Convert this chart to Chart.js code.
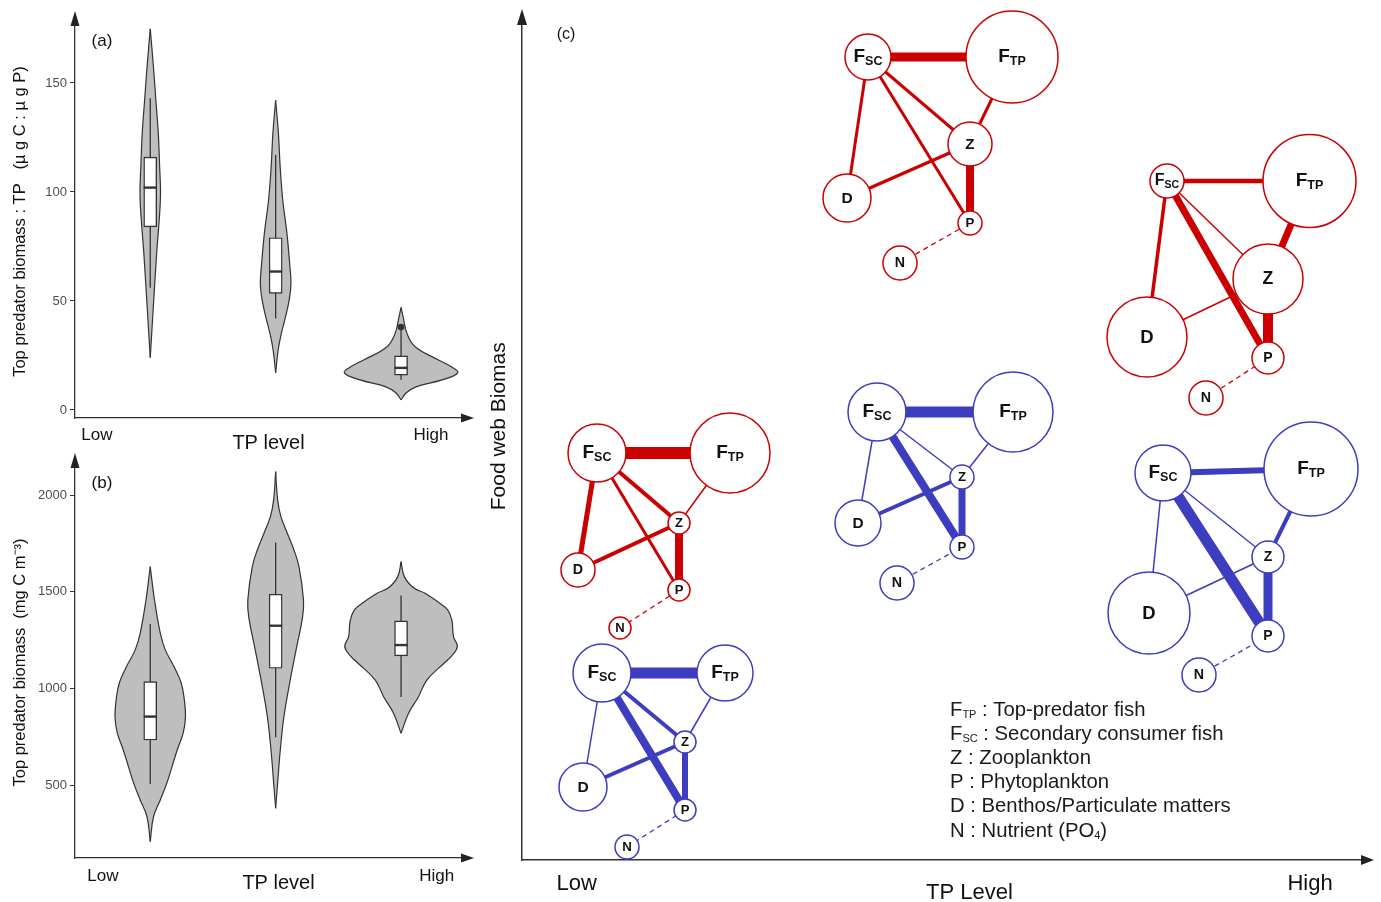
<!DOCTYPE html>
<html>
<head>
<meta charset="utf-8">
<title>Top predator biomass and food web structure along TP</title>
<script src="https://cdn.jsdelivr.net/npm/chart.js@4.4.1/dist/chart.umd.min.js"></script>
<style>
  html,body{margin:0;padding:0;background:#fff;overflow:hidden}
  #wrap{position:relative;width:1381px;height:902px}
  #wrap canvas{position:absolute;left:0;top:0}
</style>
</head>
<body>
<div id="wrap">
  <canvas id="chartA" width="1381" height="902"></canvas>
  <canvas id="chartB" width="1381" height="902"></canvas>
  <canvas id="chartC" width="1381" height="902"></canvas>
</div>
<script>
const FONT = "'Liberation Sans', Arial, Helvetica, sans-serif";

// ---------- shared ----------
const tpCats = [1, 2, 3];              // Low, intermediate, High TP
const tpEndLabels = ['Low', 'High'];

// ---------- (a) top predator biomass : TP ----------
const aTicks = [0, 50, 100, 150];
const aLowVals  = [174.8, 157, 142, 127, 111.5, 99.5, 88.5, 73.4, 58, 43, 24];
const aLowDens  = [0, .026, .045, .064, .075, .082, .073, .053, .036, .020, 0];
const aMidVals  = [142, 127, 111.5, 96, 81, 65.6, 58, 50.5, 43, 35, 27.5, 17];
const aMidDens  = [0, .022, .036, .057, .090, .114, .122, .108, .080, .045, .020, 0];
const aHighVals = [47, 42.8, 35, 29, 23, 19.9, 17, 13.8, 10.6, 7.8, 4.6];
const aHighDens = [0, .016, .048, .112, .295, .398, .452, .327, .120, .040, 0];
const aQ1 = [84, 53.5, 16];
const aMed = [102, 63.5, 19.3];
const aQ3 = [116, 79, 24.8];
const aWhiskLo = [56, 42, 13.8];
const aWhiskHi = [143, 117, 37];
const aOutX = [3];
const aOutY = [38];

// ---------- (b) top predator biomass ----------
const bTicks = [500, 1000, 1500, 2000];
const bLowVals  = [1630, 1457, 1286, 1199, 1111, 1028, 940, 853, 770, 681, 594, 511, 423, 336, 207];
const bLowDens  = [0, .034, .080, .120, .191, .247, .272, .281, .263, .215, .173, .133, .080, .026, 0];
const bMidVals  = [2121, 1975, 1888, 1802, 1716, 1630, 1457, 1371, 1199, 1028, 853, 681, 511, 380];
const bMidDens  = [0, .016, .042, .093, .146, .186, .222, .215, .163, .112, .066, .037, .016, 0];
const bHighVals = [1655, 1578, 1520, 1492, 1440, 1406, 1350, 1268, 1216, 1170, 1130, 1044, 957, 871, 768];
const bHighDens = [0, .026, .100, .191, .310, .372, .406, .418, .449, .406, .343, .207, .139, .060, 0];
const bQ1 = [733, 1104, 1168];
const bMed = [854, 1324, 1224];
const bQ3 = [1035, 1487, 1349];
const bWhiskLo = [505, 747, 955];
const bWhiskHi = [1333, 1754, 1480];

// ---------- (c) food webs ----------
const nodeNames = ['Fsc', 'Ftp', 'Z', 'D', 'P', 'N'];
const links = [['Fsc','Ftp'], ['Fsc','D'], ['Fsc','Z'], ['Fsc','P'], ['D','Z'], ['Ftp','Z'], ['Z','P'], ['N','P']];

const lowRedX = [7.5, 20.8, 15.7, 5.6, 15.7, 9.8];
const lowRedY = [40.7, 40.7, 33.7, 29.0, 27.0, 23.2];
const lowRedSize = [29, 40, 11, 17, 11, 11];
const lowRedFlux = [12, 5, 4, 3, 4, 1.5, 8, 1.3];

const lowBlueX = [8.0, 20.3, 16.3, 6.1, 16.3, 10.5];
const lowBlueY = [18.7, 18.7, 11.8, 7.3, 5.0, 1.3];
const lowBlueSize = [29, 28, 11, 24, 11, 12];
const lowBlueFlux = [11, 1.5, 4, 8, 4, 1.5, 6, 1.3];

const midRedX = [34.6, 49.0, 44.8, 32.5, 44.8, 37.8];
const midRedY = [80.3, 80.3, 71.6, 66.2, 63.7, 59.7];
const midRedSize = [23, 46, 22, 24, 12, 17];
const midRedFlux = [9, 3, 3, 3, 3.5, 3, 8, 1.3];

const midBlueX = [35.5, 49.1, 44.0, 33.6, 44.0, 37.5];
const midBlueY = [44.8, 44.8, 38.3, 33.7, 31.3, 27.7];
const midBlueSize = [29, 40, 12, 23, 12, 17];
const midBlueFlux = [11, 1.5, 1.5, 8, 4, 1.5, 7, 1.3];

const highRedX = [64.5, 78.75, 74.6, 62.5, 74.6, 68.4];
const highRedY = [67.9, 67.9, 58.1, 52.3, 50.2, 46.2];
const highRedSize = [17, 46.5, 35, 40, 16, 17];
const highRedFlux = [4.5, 3.5, 1.5, 7, 1.5, 7, 10, 1.3];

const highBlueX = [64.1, 78.9, 74.6, 62.7, 74.6, 67.7];
const highBlueY = [38.7, 39.1, 30.3, 24.7, 22.4, 18.5];
const highBlueSize = [28, 47, 16, 41, 16, 17];
const highBlueFlux = [6, 1.5, 1.5, 11, 1.5, 4, 9, 1.3];

const legendLines = [
  [{t:'F'}, {t:'TP', sub:true}, {t:' : Top-predator fish'}],
  [{t:'F'}, {t:'SC', sub:true}, {t:' : Secondary consumer fish'}],
  [{t:'Z : Zooplankton'}],
  [{t:'P : Phytoplankton'}],
  [{t:'D : Benthos/Particulate matters'}],
  [{t:'N : Nutrient (PO'}, {t:'4', sub:true}, {t:')'}]
];

const RED = '#cc0000', BLUE = '#3d3dbf', INK = '#333';

// ---------- plugins ----------
const arrowPlugin = {
  id: 'axisArrows',
  afterDraw(chart, args, o){
    const {ctx, chartArea: ca} = chart;
    ctx.save(); ctx.fillStyle = '#222';
    ctx.beginPath(); ctx.moveTo(ca.left, ca.top - o.lenY); ctx.lineTo(ca.left - o.half, ca.top + 1); ctx.lineTo(ca.left + o.half, ca.top + 1); ctx.closePath(); ctx.fill();
    ctx.beginPath(); ctx.moveTo(ca.right + o.lenX, ca.bottom); ctx.lineTo(ca.right - 1, ca.bottom - o.half); ctx.lineTo(ca.right - 1, ca.bottom + o.half); ctx.closePath(); ctx.fill();
    ctx.restore();
  }
};
const tagPlugin = {
  id: 'panelTag',
  afterDraw(chart, args, o){
    const {ctx, chartArea: ca} = chart;
    ctx.save(); ctx.font = o.size + 'px ' + FONT; ctx.fillStyle = '#111';
    ctx.textAlign = 'center'; ctx.textBaseline = 'middle';
    ctx.fillText(o.text, ca.left + o.dx, ca.top + o.dy); ctx.restore();
  }
};

// text with subscripts, left aligned or centred
function richText(ctx, parts, x, y, size, weight, subSize, subDrop, center){
  const w = parts.map(p => { ctx.font = weight + ' ' + (p.sub ? subSize : size) + 'px ' + FONT; return ctx.measureText(p.t).width; });
  let cx = center ? x - w.reduce((s, v) => s + v, 0) / 2 : x;
  parts.forEach((p, i) => {
    ctx.font = weight + ' ' + (p.sub ? subSize : size) + 'px ' + FONT;
    ctx.fillText(p.t, cx, p.sub ? y + subDrop : y);
    cx += w[i];
  });
}

const nodePlugin = {
  id: 'nodeLabels',
  afterDatasetsDraw(chart){
    const ctx = chart.ctx;
    ctx.save(); ctx.fillStyle = '#111'; ctx.textBaseline = 'middle'; ctx.textAlign = 'left';
    chart.data.datasets.forEach((ds, di) => {
      if (ds.type !== 'bubble') return;
      chart.getDatasetMeta(di).data.forEach((pt, i) => {
        const r = ds.data[i].r, name = nodeNames[i];
        if (name[0] === 'F') {
          const fs = r < 20 ? 16 : 19;
          richText(ctx, [{t:'F'}, {t:name.slice(1).toUpperCase(), sub:true}], pt.x, pt.y, fs, 'bold', fs * 0.66, fs * 0.24, true);
        } else {
          const fs = Math.min(18.5, 11 + r * 0.19);
          richText(ctx, [{t:name}], pt.x, pt.y + 0.5, fs, 'bold', fs, 0, true);
        }
      });
    });
    ctx.restore();
  }
};

const legendPlugin = {
  id: 'webLegend',
  afterDraw(chart){
    const {ctx, chartArea: ca} = chart;
    ctx.save(); ctx.fillStyle = '#1a1a1a'; ctx.textBaseline = 'middle'; ctx.textAlign = 'left';
    legendLines.forEach((parts, i) => {
      richText(ctx, parts, ca.left + 428, ca.bottom - 150 + i * 24.2, 20.3, 'normal', 11, 5, false);
    });
    ctx.restore();
  }
};

// ---------- violin panels ----------
function violinSets(center, vals, dens){
  const common = {type:'line', indexAxis:'y', borderColor:INK, borderWidth:1.2, pointRadius:0, tension:0.4, clip:false, order:5};
  return [
    Object.assign({}, common, {data: vals.map((v, i) => ({x: center - dens[i], y: v})), fill:false}),
    Object.assign({}, common, {data: vals.map((v, i) => ({x: center + dens[i], y: v})), fill:'-1', backgroundColor:'#bebebe'})
  ];
}
function boxSets(q1, med, q3, lo, hi){
  const half = 0.052, sets = [];
  tpCats.forEach((c, i) => {
    sets.push({type:'line', data:[{x:c, y:lo[i]}, {x:c, y:hi[i]}], borderColor:INK, borderWidth:1.3, pointRadius:0, order:4, clip:false});
    sets.push({type:'line', data:[{x:c - half, y:med[i]}, {x:c + half, y:med[i]}], borderColor:INK, borderWidth:2.4, pointRadius:0, order:2, clip:false});
  });
  sets.push({type:'bar', data: tpCats.map((c, i) => ({x:c, y:[q1[i], q3[i]]})), backgroundColor:'#fff', borderColor:INK,
             borderWidth:1.4, borderSkipped:false, barThickness:13, order:3});
  return sets;
}

function violinOptions(p){
  return {
    responsive:false, animation:false, events:[],
    layout:{autoPadding:false, padding:{left:0, top:p.top, right:1381 - 462, bottom:902 - p.bottom - 40}},
    plugins:{legend:{display:false}, tooltip:{enabled:false},
      panelTag:{text:p.tag, dx:27, dy:16, size:17}, axisArrows:{lenX:12, lenY:14, half:4.5}},
    scales:{
      x:{type:'linear', min:0.4, max:3.486, offset:false,
        grid:{display:false, drawTicks:false}, border:{display:true, color:INK, width:1.3},
        afterBuildTicks: s => { s.ticks = p.ends.map(v => ({value:v})); },
        ticks:{callback:(v, i) => tpEndLabels[i], autoSkip:false, maxRotation:0, padding:p.tickPad,
               font:{family:FONT, size:17}, color:'#111'},
        title:{display:true, text:p.xTitle, font:{family:FONT, size:20}, color:'#111', padding:{top:0, bottom:p.titlePad}},
        afterFit: s => { s.height = 40; }},
      y:{type:'linear', min:p.min, max:p.max,
        afterBuildTicks: s => { s.ticks = p.ticks.map(v => ({value:v})); },
        grid:{display:true, drawOnChartArea:false, drawTicks:true, tickLength:5, color:INK, tickColor:INK, tickWidth:1},
        border:{display:true, color:INK, width:1.3},
        ticks:{callback: v => String(v), font:{family:FONT, size:13}, color:'#4d4d4d', padding:3},
        title:{display:true, text:p.yTitle, font:{family:FONT, size:16.5}, color:'#111', padding:{top:11, bottom:0}},
        afterFit: s => { s.width = 75; }}
    }
  };
}

const aSets = [].concat(
  violinSets(1, aLowVals, aLowDens), violinSets(2, aMidVals, aMidDens), violinSets(3, aHighVals, aHighDens),
  boxSets(aQ1, aMed, aQ3, aWhiskLo, aWhiskHi),
  [{type:'line', data: aOutX.map((x, i) => ({x, y:aOutY[i]})), showLine:false, pointRadius:3,
    pointBackgroundColor:INK, pointBorderColor:INK, order:1, clip:false}]
);
new Chart(document.getElementById('chartA'), {
  type:'line', data:{datasets:aSets},
  options: violinOptions({top:25, bottom:418, min:-3.7, max:176.6, ticks:aTicks, ends:[0.575, 3.239], tag:'(a)',
    tickPad:7, titlePad:3, xTitle:'TP level', yTitle:'Top predator biomass : TP   (\u00b5 g C : \u00b5 g P)'}),
  plugins:[arrowPlugin, tagPlugin]
});

const bSets = [].concat(
  violinSets(1, bLowVals, bLowDens), violinSets(2, bMidVals, bMidDens), violinSets(3, bHighVals, bHighDens),
  boxSets(bQ1, bMed, bQ3, bWhiskLo, bWhiskHi)
);
new Chart(document.getElementById('chartB'), {
  type:'line', data:{datasets:bSets},
  options: violinOptions({top:467, bottom:858, min:122.6, max:2145, ticks:bTicks, ends:[0.623, 3.284], tag:'(b)',
    tickPad:8, titlePad:3, xTitle:'\u2003TP level', yTitle:'Top predator biomass  (mg C m\u207b\u00b3)'}),
  plugins:[arrowPlugin, tagPlugin]
});

// ---------- food web panel ----------
const webs = [
  {x:midRedX, y:midRedY, r:midRedSize, w:midRedFlux, color:RED},
  {x:highRedX, y:highRedY, r:highRedSize, w:highRedFlux, color:RED},
  {x:lowRedX, y:lowRedY, r:lowRedSize, w:lowRedFlux, color:RED},
  {x:midBlueX, y:midBlueY, r:midBlueSize, w:midBlueFlux, color:BLUE},
  {x:highBlueX, y:highBlueY, r:highBlueSize, w:highBlueFlux, color:BLUE},
  {x:lowBlueX, y:lowBlueY, r:lowBlueSize, w:lowBlueFlux, color:BLUE}
];
const cSets = [];
webs.forEach(web => {
  links.forEach((lk, k) => {
    const a = nodeNames.indexOf(lk[0]), b = nodeNames.indexOf(lk[1]);
    cSets.push({type:'line', data:[{x:web.x[a], y:web.y[a]}, {x:web.x[b], y:web.y[b]}],
      borderColor:web.color, borderWidth:web.w[k], borderDash: lk[0] === 'N' ? [5, 4] : [],
      borderCapStyle:'butt', pointRadius:0, order:2, clip:false});
  });
  cSets.push({type:'bubble', data: web.x.map((x, i) => ({x, y:web.y[i], r:web.r[i]})),
    backgroundColor:'#fff', borderColor:web.color, borderWidth:1.5, order:1, clip:false});
});

new Chart(document.getElementById('chartC'), {
  type:'scatter', data:{datasets:cSets},
  options:{
    responsive:false, animation:false, events:[],
    layout:{autoPadding:false, padding:{left:480, top:24, right:19, bottom:0}},
    plugins:{legend:{display:false}, tooltip:{enabled:false},
      panelTag:{text:'(c)', dx:44, dy:11, size:16}, axisArrows:{lenX:12, lenY:15, half:5}},
    scales:{
      x:{type:'linear', min:0, max:84, grid:{display:false, drawTicks:false}, border:{display:true, color:INK, width:1.5},
        afterBuildTicks: s => { s.ticks = [5.47, 78.8].map(v => ({value:v})); },
        ticks:{callback:(v, i) => tpEndLabels[i], autoSkip:false, maxRotation:0, padding:11,
               font:{family:FONT, size:22}, color:'#111'},
        title:{display:true, text:'\u2003\u2003\u2002TP Level', font:{family:FONT, size:22}, color:'#111', padding:{top:0, bottom:-4}},
        afterFit: s => { s.height = 42; }},
      y:{type:'linear', min:0, max:83.6, grid:{display:false, drawTicks:false}, ticks:{display:false},
        border:{display:true, color:INK, width:1.5},
        title:{display:true, text:'\u2003\u2002Food web Biomas', font:{family:FONT, size:21}, color:'#111', padding:{top:7, bottom:0}},
        afterFit: s => { s.width = 42; }}
    }
  },
  plugins:[arrowPlugin, tagPlugin, nodePlugin, legendPlugin]
});
</script>
</body>
</html>
